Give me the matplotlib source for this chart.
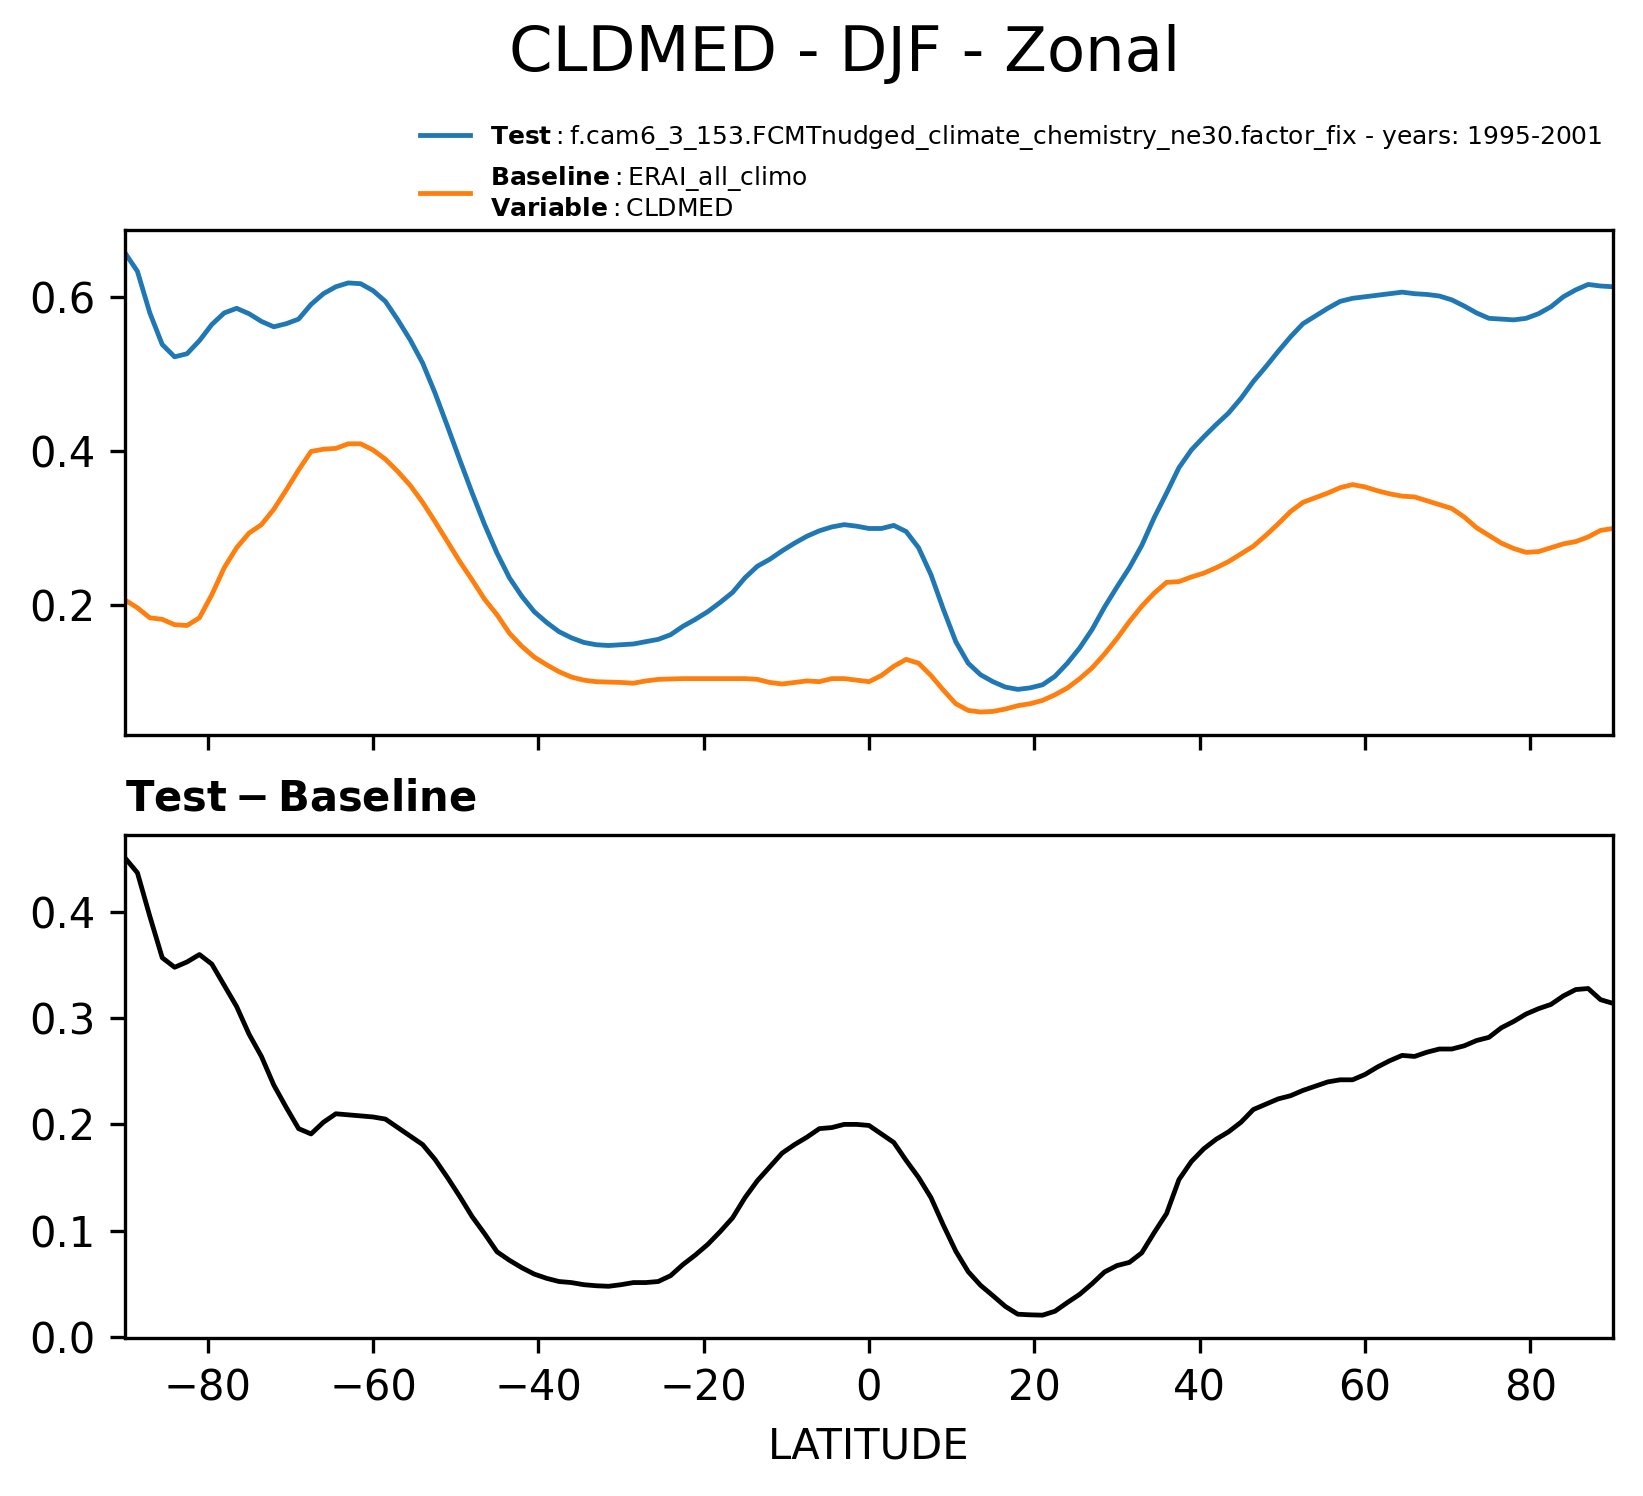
import numpy as np
import matplotlib
matplotlib.use("Agg")
import matplotlib.pyplot as plt

# 1.5 degree latitude grid
lat = np.linspace(-90, 90, 121)

test_vals = [
    0.657, 0.633, 0.579, 0.538, 0.522, 0.526, 0.543, 0.564, 0.579, 0.585,
    0.578, 0.568, 0.561, 0.565, 0.571, 0.590, 0.604, 0.613, 0.618, 0.617,
    0.608, 0.594, 0.570, 0.544, 0.514, 0.475, 0.432, 0.388, 0.345, 0.304,
    0.267, 0.235, 0.211, 0.191, 0.177, 0.165, 0.157, 0.151, 0.148, 0.147,
    0.148, 0.149, 0.152, 0.155, 0.161, 0.172, 0.181, 0.191, 0.203, 0.216,
    0.235, 0.250, 0.259, 0.270, 0.280, 0.289, 0.296, 0.301, 0.304, 0.302,
    0.299, 0.299, 0.303, 0.295, 0.274, 0.239, 0.194, 0.152, 0.124, 0.109,
    0.100, 0.093, 0.090, 0.092, 0.096, 0.107, 0.124, 0.144, 0.168, 0.197,
    0.223, 0.248, 0.277, 0.313, 0.345, 0.378, 0.401, 0.418, 0.434, 0.449,
    0.468, 0.490, 0.509, 0.529, 0.548, 0.565, 0.575, 0.585, 0.594, 0.598,
    0.600, 0.602, 0.604, 0.606, 0.604, 0.603, 0.601, 0.596, 0.588, 0.579,
    0.572, 0.571, 0.570, 0.572, 0.578, 0.587, 0.600, 0.609, 0.616, 0.614,
    0.613,
]

base_vals = [
    0.206, 0.196, 0.183, 0.181, 0.174, 0.173, 0.183, 0.213, 0.248, 0.274,
    0.293, 0.304, 0.324, 0.349, 0.375, 0.399, 0.402, 0.403, 0.409, 0.409,
    0.401, 0.389, 0.373, 0.355, 0.333, 0.308, 0.282, 0.256, 0.232, 0.207,
    0.187, 0.163, 0.146, 0.132, 0.122, 0.113, 0.106, 0.102, 0.100, 0.0995,
    0.099, 0.098, 0.101, 0.103, 0.1035, 0.104, 0.104, 0.104, 0.104, 0.104,
    0.104, 0.103, 0.099, 0.097, 0.099, 0.101, 0.100, 0.104, 0.104, 0.102,
    0.100, 0.108, 0.120, 0.129, 0.124, 0.108, 0.089, 0.0714, 0.0627, 0.0606,
    0.0614, 0.0645, 0.0688, 0.0714, 0.0757, 0.083, 0.0918, 0.104, 0.118, 0.136,
    0.156, 0.178, 0.198, 0.215, 0.229, 0.230, 0.236, 0.241, 0.248, 0.256,
    0.266, 0.276, 0.290, 0.305, 0.321, 0.333, 0.339, 0.345, 0.352, 0.356,
    0.353, 0.348, 0.344, 0.341, 0.340, 0.335, 0.330, 0.325, 0.314, 0.300,
    0.290, 0.280, 0.273, 0.268, 0.269, 0.274, 0.279, 0.282, 0.288, 0.2965,
    0.299,
]

test = np.array(test_vals)
base = np.array(base_vals)
diff = test - base

test_label = r"$\mathbf{Test}:$" + "f.cam6_3_153.FCMTnudged_climate_chemistry_ne30.factor_fix - years: 1995-2001"
base_label = r"$\mathbf{Baseline}:$" + "ERAI_all_climo\n" + r"$\mathbf{Variable}:$" + "CLDMED"

fig = plt.figure(figsize=(1643 / 300, 1496 / 300), dpi=300)
ax1 = fig.add_axes([0.0761, 0.5087, 0.9056, 0.3376])
ax2 = fig.add_axes([0.0761, 0.1056, 0.9056, 0.3362])

l1, = ax1.plot(lat, test, color="tab:blue", lw=1.15)
l2, = ax1.plot(lat, base, color="tab:orange", lw=1.15)
ax1.set_xlim(-90, 90)
ax1.set_xticks(np.arange(-80, 81, 20))
ax1.tick_params(labelbottom=False, labelsize=10)

ax2.plot(lat, diff, color="black", lw=1.15)
ax2.set_xlim(-90, 90)
ax2.set_xticks(np.arange(-80, 81, 20))
ax2.tick_params(labelsize=10)
ax2.set_xlabel("LATITUDE", fontsize=10)
ax2.set_title(r"$\bf{Test} - \bf{Baseline}$", loc="left", fontsize=10)

fig.text(0.514, 0.964, "CLDMED - DJF - Zonal", fontsize=15, ha="center", va="center")
fig.legend([l1, l2], [test_label, base_label], loc="upper left",
           bbox_to_anchor=(0.242, 0.933), frameon=False, fontsize=6)

fig.savefig("out.png", dpi=300)
